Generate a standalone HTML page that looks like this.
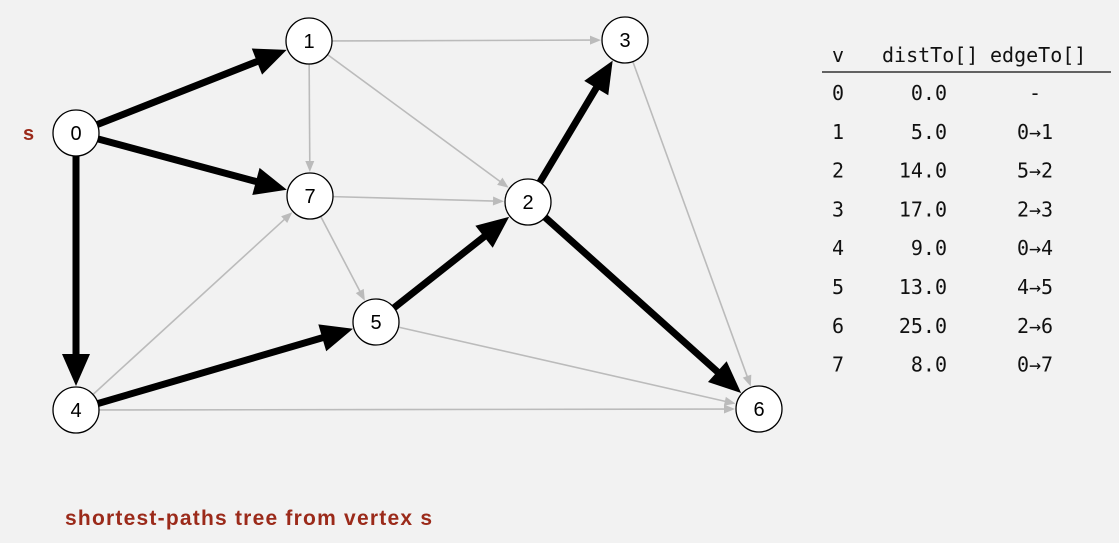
<!DOCTYPE html>
<html><head><meta charset="utf-8"><style>
html,body{margin:0;padding:0;background:#f2f2f2;}
body{width:1119px;height:543px;overflow:hidden;position:relative;}
svg{position:absolute;left:0;top:0;}
.n{font-family:"Liberation Sans",sans-serif;font-size:20px;}
.m{font-family:"DejaVu Sans Mono","Liberation Mono",monospace;font-size:20px;fill:#111;}
.r{font-family:"Liberation Sans",sans-serif;font-weight:bold;fill:#9b2a1a;}
</style></head><body>
<svg id="s" width="1119" height="543" xmlns="http://www.w3.org/2000/svg">
<g id="edges"></g><g id="nodes"></g>
<text class="r" x="23" y="140" font-size="20">s</text>
<text class="r" x="65" y="525" font-size="21" textLength="367" lengthAdjust="spacing">shortest-paths tree from vertex s</text>
<line x1="822" y1="72" x2="1111" y2="72" stroke="#333" stroke-width="1.5"/>
<text class="m" x="832" y="62">v</text>
<text class="m" x="882" y="62">distTo[]</text>
<text class="m" x="990" y="62">edgeTo[]</text>
<g id="tbl"></g>
</svg>
<script>
var P={0:[76,133],1:[309,41],2:[528,202],3:[625,40],4:[76,410],5:[376,322],6:[759,409],7:[310,196]};
var R=23,NS="http://www.w3.org/2000/svg";
function el(t,a,p){var e=document.createElementNS(NS,t);for(var k in a)e.setAttribute(k,a[k]);p.appendChild(e);return e;}
var E=document.getElementById("edges");
function edge(a,b,bold){var p=P[a],q=P[b],dx=q[0]-p[0],dy=q[1]-p[1],L=Math.hypot(dx,dy),ux=dx/L,uy=dy/L;
var sx=p[0]+ux*R,sy=p[1]+uy*R,tx=q[0]-ux*(R+1),ty=q[1]-uy*(R+1);
var al=bold?32:11,aw=bold?14:4.5,col=bold?"#000":"#bbb";
var bx=tx-ux*al,by=ty-uy*al;
el("line",{x1:sx,y1:sy,x2:bx+ux*1,y2:by+uy*1,stroke:col,"stroke-width":bold?7:1.6},E);
el("polygon",{points:tx+","+ty+" "+(bx-uy*aw)+","+(by+ux*aw)+" "+(bx+uy*aw)+","+(by-ux*aw),fill:col},E);}
[[1,3],[1,7],[1,2],[7,2],[7,5],[4,7],[5,6],[4,6],[3,6]].forEach(function(e){edge(e[0],e[1],false);});
[[0,1],[0,7],[0,4],[4,5],[5,2],[2,3],[2,6]].forEach(function(e){edge(e[0],e[1],true);});
var N=document.getElementById("nodes");
for(var k in P){el("circle",{cx:P[k][0],cy:P[k][1],r:R,fill:"#fff",stroke:"#000","stroke-width":1.3},N);
var t=el("text",{x:P[k][0],y:P[k][1]+7,"text-anchor":"middle",class:"n"},N);t.textContent=k;}
var T=document.getElementById("tbl");
var rows=[["0","0.0","-"],["1","5.0","0→1"],["2","14.0","5→2"],["3","17.0","2→3"],["4","9.0","0→4"],["5","13.0","4→5"],["6","25.0","2→6"],["7","8.0","0→7"]];
rows.forEach(function(r,i){var y=100+i*38.8;
var a=el("text",{x:832,y:y,class:"m"},T);a.textContent=r[0];
var b=el("text",{x:947,y:y,class:"m","text-anchor":"end"},T);b.textContent=r[1];
var c=el("text",{x:1035,y:y,class:"m","text-anchor":"middle"},T);c.textContent=r[2];});
</script>
</body></html>
